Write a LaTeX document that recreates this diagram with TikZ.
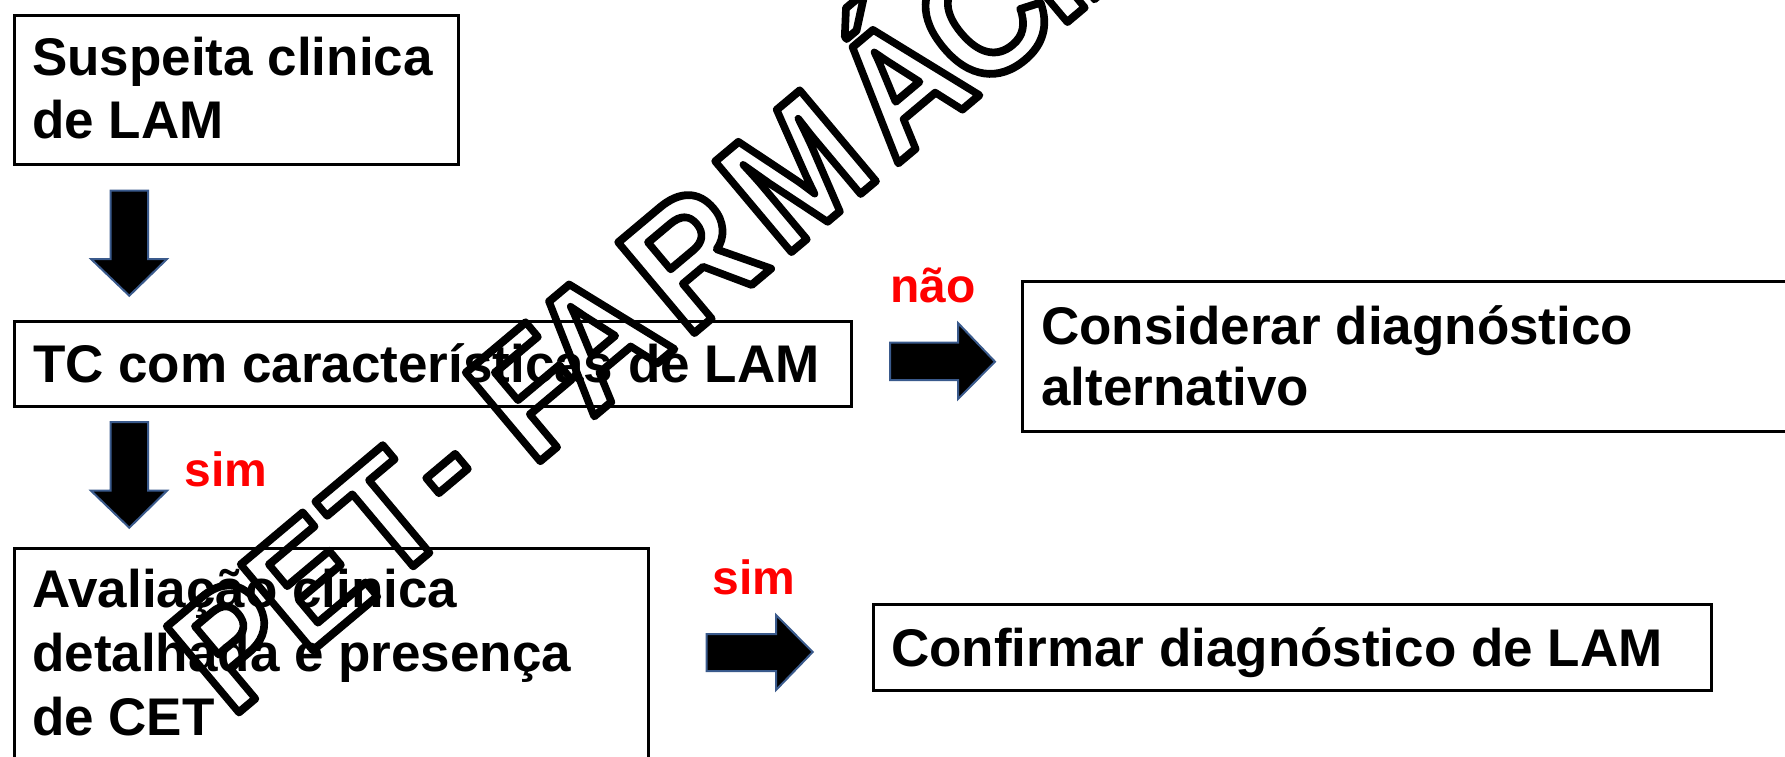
\documentclass[tikz,border=0pt]{standalone}
\usepackage{fontspec}
\setmainfont{Liberation Sans}
\definecolor{arrowblue}{HTML}{3A5A8C}
\definecolor{labelred}{HTML}{FF0000}
\newcommand{\outlinetext}[1]{\special{pdf:literal direct 1 Tr 8 w 1 j 1 J}#1\special{pdf:literal direct 0 Tr}}
\begin{document}
\begin{tikzpicture}[x=1pt,y=-1pt,
  box/.style={draw=black, line width=3pt, rectangle, inner sep=0pt, anchor=north west},
  boxtext/.style={anchor=base west, inner sep=0pt, font=\fontsize{53}{63.5}\selectfont\bfseries},
  lbl/.style={anchor=base west, inner sep=0pt, text=labelred, font=\fontsize{48}{56}\selectfont\bfseries},
  blockarrow/.style={fill=black, draw=arrowblue, line width=2pt, line join=miter},
  wm/.style={anchor=base west, inner sep=0pt, rotate=40, xscale=0.92,
    font=\fontsize{#1}{#1}\selectfont\bfseries}]
\useasboundingbox (0,0) rectangle (1785,757);
\fill[white] (0,0) rectangle (1785,757);

% boxes
\node[box, minimum width=444pt, minimum height=149pt] (b1) at (13,14) {};
\node[box, minimum width=837pt, minimum height=85pt] (b2) at (13,320) {};
\node[box, minimum width=634pt, minimum height=240pt] (b3) at (13,547) {};
\node[box, minimum width=780pt, minimum height=150pt] (b4) at (1021,280) {};
\node[box, minimum width=838pt, minimum height=86pt] (b5) at (872,603) {};

% texts
\node[boxtext] (t1a) at (32,76) {Suspeita clinica};
\node[boxtext] (t1b) at (32,139) {de LAM};
\node[boxtext] (t2) at (33,382) {TC com características de LAM};
\node[boxtext] (t3a) at (32,607) {Avaliação clinica};
\node[boxtext] (t3b) at (32,671) {detalhada e presença};
\node[boxtext] (t3c) at (32,735) {de CET};
\node[boxtext] (t4a) at (1041,344) {Considerar diagnóstico};
\node[boxtext] (t4b) at (1041,405) {alternativo};
\node[boxtext] (t5) at (891,666) {Confirmar diagnóstico de LAM};

% labels
\node[lbl] (nao) at (890,302) {não};
\node[lbl] (sim1) at (184.5,486) {sim};
\node[lbl] (sim2) at (712.5,594) {sim};

% block arrows
\draw[blockarrow] (110.7,190.7) -- (148,190.7) -- (148,259) -- (167,259) -- (129.3,295.7) -- (91,259) -- (110.7,259) -- cycle;
\draw[blockarrow] (110.7,422) -- (148,422) -- (148,490.7) -- (167,490.7) -- (129.3,527.7) -- (91,490.7) -- (110.7,490.7) -- cycle;
\draw[blockarrow] (890,342.7) -- (958,342.7) -- (958,323) -- (995,361.7) -- (958,399) -- (958,380) -- (890,380) -- cycle;
\draw[blockarrow] (706.7,634) -- (776,634) -- (776,615) -- (812.7,652) -- (776,690) -- (776,671) -- (706.7,671) -- cycle;

% watermark (outlined letters)
\node[wm=163] (wP) at (231,719) {\outlinetext{P}};
\node[wm=163] (wE) at (305,657) {\outlinetext{E}};
\node[wm=163] (wT) at (386,589) {\outlinetext{T}};
\node[wm=163] (wD) at (455,522) {\outlinetext{-}};
\node[wm=168] (wF) at (532,468) {\outlinetext{F}};
\node[wm=170] (wA1) at (591,419) {\outlinetext{A}};
\node[wm=172] (wR) at (686,340) {\outlinetext{R}};
\node[wm=172] (wM) at (783,259) {\outlinetext{M}};
\node[wm=172] (wA2) at (895,166) {\outlinetext{Á}};
\node[wm=172] (wC) at (977,98) {\outlinetext{C}};
\node[wm=172] (wI) at (1059,29) {\outlinetext{I}};
\node[wm=172] (wA3) at (1091,2) {\outlinetext{A}};
\end{tikzpicture}
\end{document}
